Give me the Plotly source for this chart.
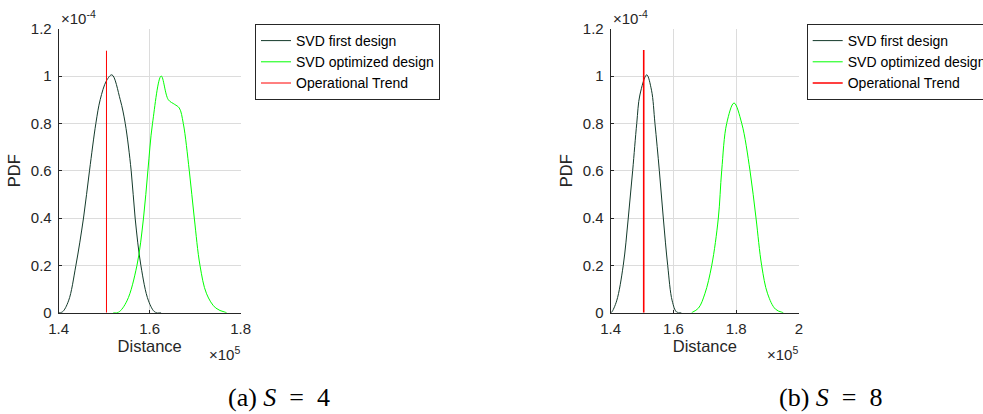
import plotly.graph_objects as go

# ---------------- data (distance in metres, PDF values) ----------------
# (a) S = 4
a_first_x = [140000, 140800, 142160, 143780, 145450, 146770, 148170, 149120,
             150500, 151700, 153520, 154620, 155930, 156800, 158060, 159740, 161200, 162500]
a_first_y = [0.0, 0.003e-4, 0.05e-4, 0.20e-4, 0.40e-4, 0.60e-4, 0.80e-4, 0.90e-4,
             0.98e-4, 1.005e-4, 0.90e-4, 0.80e-4, 0.60e-4, 0.40e-4, 0.20e-4, 0.05e-4, 0.002e-4, 0.0]
a_opt_x = [152000, 153150, 155000, 157200, 158640, 159600, 160620, 162530,
           164090, 165500, 166500, 167380, 168700, 169800, 171050, 172500, 174500, 176900]
a_opt_y = [0.0, 0.002e-4, 0.05e-4, 0.20e-4, 0.40e-4, 0.60e-4, 0.80e-4, 1.0e-4,
           0.90e-4, 0.88e-4, 0.865e-4, 0.80e-4, 0.60e-4, 0.40e-4, 0.20e-4, 0.08e-4, 0.02e-4, 0.0]
a_trend_x = [150500, 150500]
a_trend_y = [0.0, 1.107e-4]

# (b) S = 8
b_first_x = [140000, 140300, 141900, 144000, 145600, 147000, 148300, 149300, 151470,
             153000, 154100, 155500, 156760, 158160, 159600, 161000, 162500]
b_first_y = [0.0, 0.002e-4, 0.05e-4, 0.20e-4, 0.40e-4, 0.60e-4, 0.80e-4, 0.92e-4, 1.005e-4,
             0.94e-4, 0.80e-4, 0.60e-4, 0.40e-4, 0.20e-4, 0.05e-4, 0.003e-4, 0.0]
b_opt_x = [165800, 168000, 170000, 172200, 174300, 175370, 176970, 179300, 181750,
           184390, 186300, 188100, 190000, 192500, 195000]
b_opt_y = [0.0, 0.02e-4, 0.08e-4, 0.20e-4, 0.40e-4, 0.60e-4, 0.80e-4, 0.886e-4, 0.80e-4,
           0.60e-4, 0.40e-4, 0.20e-4, 0.08e-4, 0.015e-4, 0.0]
b_trend_x = [150520, 150520]
b_trend_y = [0.0, 1.11e-4]

series_names = ["SVD first design", "SVD optimized design", "Operational Trend"]
y_ticks = [0, 0.2e-4, 0.4e-4, 0.6e-4, 0.8e-4, 1.0e-4, 1.2e-4]
y_ticklabels = ["0", "0.2", "0.4", "0.6", "0.8", "1", "1.2"]
a_x_ticks = [140000, 160000, 180000]
a_x_ticklabels = ["1.4", "1.6", "1.8"]
b_x_ticks = [140000, 160000, 180000, 200000]
b_x_ticklabels = ["1.4", "1.6", "1.8", "2"]
captions = ["(a) <i>S</i>\u2002=\u20024", "(b) <i>S</i>\u2002=\u20028"]

# ---------------- style ----------------
C_FIRST = "#143a2b"
C_OPT = "#00ff00"
C_TREND = "#ff0000"
AX = "#262626"
GRID = "#dcdcdc"
FONT = "Liberation Sans, Arial, sans-serif"

W, H = 983, 414
fig = go.Figure()

panels = [
    (a_first_x, a_first_y, a_opt_x, a_opt_y, a_trend_x, a_trend_y, "x", "y", "legend", 1.0),
    (b_first_x, b_first_y, b_opt_x, b_opt_y, b_trend_x, b_trend_y, "x2", "y2", "legend2", 1.6),
]
for fx, fy, ox, oy, tx, ty, xa, ya, lg, tw in panels:
    fig.add_trace(go.Scatter(x=fx, y=fy, mode="lines", name=series_names[0], xaxis=xa, yaxis=ya,
                             line=dict(color=C_FIRST, width=1, shape="spline", smoothing=1.0), legend=lg))
    fig.add_trace(go.Scatter(x=ox, y=oy, mode="lines", name=series_names[1], xaxis=xa, yaxis=ya,
                             line=dict(color=C_OPT, width=1, shape="spline", smoothing=1.0), legend=lg))
    fig.add_trace(go.Scatter(x=tx, y=ty, mode="lines", name=series_names[2], xaxis=xa, yaxis=ya,
                             line=dict(color=C_TREND, width=tw), legend=lg))

def px_x(p):
    return p / W

def px_y(p):
    return 1 - p / H

axis_common = dict(showgrid=True, gridcolor=GRID, gridwidth=1, showline=True, linecolor=AX, linewidth=1,
                   ticks="inside", ticklen=3, tickcolor=AX, zeroline=False, mirror=False,
                   tickfont=dict(family=FONT, size=15, color=AX))
xtitle = dict(text="Distance", font=dict(family=FONT, size=16.5, color=AX), standoff=4)
ytitle = dict(text="PDF", font=dict(family=FONT, size=16.5, color=AX), standoff=6)

fig.update_layout(
    width=W, height=H,
    margin=dict(l=0, r=0, t=0, b=0, autoexpand=False),
    paper_bgcolor="white", plot_bgcolor="white",
    showlegend=True,
    xaxis=dict(domain=[px_x(58.7), px_x(240.7)], anchor="y", range=[140000, 180000],
               tickvals=a_x_ticks, ticktext=a_x_ticklabels, ticklabelstandoff=2,
               title=xtitle, **axis_common),
    yaxis=dict(domain=[px_y(312.7), px_y(28.7)], anchor="x", range=[0, 1.2e-4],
               tickvals=y_ticks, ticktext=y_ticklabels, ticklabelstandoff=3,
               title=ytitle, **axis_common),
    xaxis2=dict(domain=[px_x(610.7), px_x(799)], anchor="y2", range=[140000, 200000],
                tickvals=b_x_ticks, ticktext=b_x_ticklabels, ticklabelstandoff=2,
                title=xtitle, **axis_common),
    yaxis2=dict(domain=[px_y(312.7), px_y(28.7)], anchor="x2", range=[0, 1.2e-4],
                tickvals=y_ticks, ticktext=y_ticklabels, ticklabelstandoff=3,
                title=ytitle, **axis_common),
    legend=dict(x=px_x(255), y=px_y(24), xanchor="left", yanchor="top",
                bordercolor=AX, borderwidth=1, bgcolor="white",
                font=dict(family=FONT, size=14, color="#000000"),
                tracegroupgap=0, itemwidth=30, traceorder="normal"),
    legend2=dict(x=px_x(806.7), y=px_y(24), xanchor="left", yanchor="top",
                 bordercolor=AX, borderwidth=1, bgcolor="white",
                 font=dict(family=FONT, size=14, color="#000000"),
                 tracegroupgap=0, itemwidth=30, traceorder="normal"),
)

ann = []
# exponent labels
for xl, xr in [(58.7, 240.7), (610.7, 799)]:
    ann.append(dict(x=px_x(xl), y=px_y(18), xref="paper", yref="paper", xanchor="left", yanchor="middle",
                    text="\u00d710<sup>-4</sup>", showarrow=False, font=dict(family=FONT, size=15, color=AX)))
    ann.append(dict(x=px_x(xr + 1), y=px_y(353), xref="paper", yref="paper", xanchor="right", yanchor="middle",
                    text="\u00d710<sup>5</sup>", showarrow=False, font=dict(family=FONT, size=15, color=AX)))
# captions
for cx, txt in [(279, captions[0]), (831, captions[1])]:
    ann.append(dict(x=px_x(cx), y=px_y(397), xref="paper", yref="paper", xanchor="center", yanchor="middle",
                    text=txt, showarrow=False,
                    font=dict(family="Liberation Serif, Times New Roman, serif", size=26, color="#000000")))
fig.update_layout(annotations=ann)

fig.write_html("out.html")
